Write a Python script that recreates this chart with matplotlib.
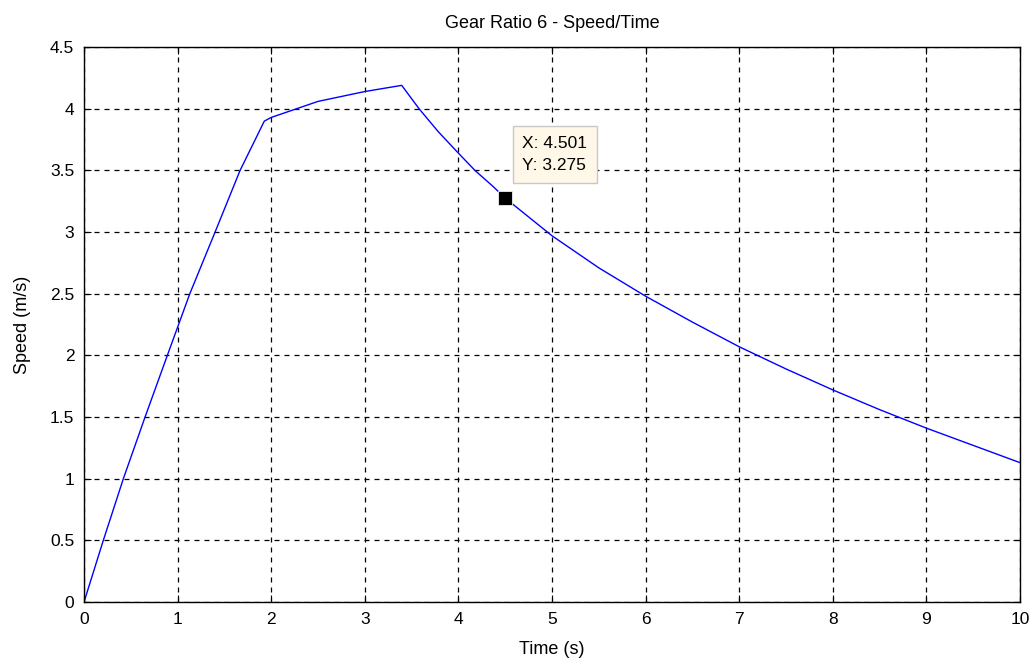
import matplotlib
matplotlib.use("Agg")
import matplotlib.pyplot as plt

plt.rcParams['font.family'] = ['Liberation Sans', 'DejaVu Sans']

time_s = [0.0, 0.206, 0.42, 0.652, 0.89, 1.13, 1.40, 1.667, 1.926, 2.0, 2.5,
          3.0, 3.394, 3.58, 3.785, 4.0, 4.177, 4.373, 4.501, 5.0, 5.5, 6.0,
          6.5, 7.0, 7.5, 8.0, 8.5, 9.0, 9.5, 10.0]
speed = [0.0, 0.5, 1.0, 1.5, 2.0, 2.5, 3.0, 3.5, 3.90, 3.93, 4.06,
         4.14, 4.19, 4.0, 3.814, 3.64, 3.5, 3.368, 3.275, 2.97, 2.71, 2.48,
         2.27, 2.07, 1.89, 1.72, 1.56, 1.41, 1.27, 1.13]
tip_x, tip_y = 4.501, 3.275
xticks = list(range(0, 11))
yticks = [0, 0.5, 1, 1.5, 2, 2.5, 3, 3.5, 4, 4.5]
ytick_labels = ['0', '0.5', '1', '1.5', '2', '2.5', '3', '3.5', '4', '4.5']

fig = plt.figure(figsize=(10.35, 6.64), dpi=100)
ax = fig.add_axes([0.0812, 0.0934, 0.9043, 0.8356])
ax.plot(time_s, speed, color='#0000ff', linewidth=1.0)
ax.plot([tip_x], [tip_y], marker='s', color='black', markersize=10,
        markeredgecolor='#f0f0f0', markeredgewidth=0.6, linestyle='none')
ax.text(4.68, 3.78, f"X: {tip_x}\nY: {tip_y}", fontsize=12.5, va='top', ha='left',
        linespacing=1.6,
        bbox=dict(boxstyle='square,pad=0.55', facecolor='#fff8e8', edgecolor='#c8c8c8'))

ax.set_xlim(0, 10)
ax.set_ylim(0, 4.5)
ax.set_xticks(xticks)
ax.set_yticks(yticks)
ax.set_yticklabels(ytick_labels)
ax.grid(True, color='black', linestyle=(0, (4, 4)), linewidth=0.9)
ax.tick_params(direction='in', top=True, right=True, labelsize=12.5, length=5, pad=7)
for s in ax.spines.values():
    s.set_linewidth(1.0)
ax.set_xlabel('Time (s)', fontsize=13, labelpad=10)
ax.set_ylabel('Speed (m/s)', fontsize=13, labelpad=14)
ax.set_title('Gear Ratio 6 - Speed/Time', fontsize=13, pad=14)

fig.savefig('out.png', dpi=100)
